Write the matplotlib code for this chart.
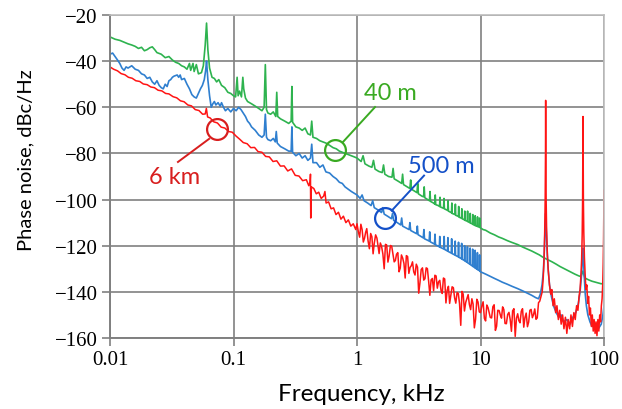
import matplotlib
matplotlib.use("Agg")
import matplotlib.pyplot as plt

# ---- data (frequency in kHz, phase noise in dBc/Hz) ----
f_40m = [0.010, 0.011, 0.012, 0.013, 0.014, 0.015, 0.016, 0.017, 0.018, 0.019,
         0.020, 0.021, 0.022, 0.023, 0.024, 0.026, 0.028, 0.030, 0.032, 0.034,
         0.036, 0.038, 0.040, 0.042, 0.044, 0.045, 0.047, 0.048, 0.050, 0.052,
         0.055, 0.057, 0.059, 0.0605, 0.062, 0.064, 0.067, 0.070, 0.073, 0.076,
         0.080, 0.085, 0.090, 0.095, 0.100, 0.104, 0.107, 0.109, 0.112, 0.116,
         0.119, 0.121, 0.125, 0.13, 0.14, 0.15, 0.16, 0.17, 0.177, 0.181,
         0.185, 0.19, 0.20, 0.21, 0.22, 0.224, 0.228, 0.24, 0.26, 0.28,
         0.293, 0.297, 0.301, 0.32, 0.34, 0.36, 0.38, 0.40, 0.42, 0.43,
         0.44, 0.47, 0.50, 0.53, 0.56, 0.60, 0.64, 0.68, 0.72, 0.76,
         0.80, 0.85, 0.90, 0.95,
         1.00, 1.08, 1.12, 1.16, 1.25, 1.32, 1.36, 1.40, 1.50, 1.60,
         1.64, 1.68, 1.80, 1.92, 1.96, 2.00, 2.15, 2.30, 2.34, 2.38,
         2.55, 2.68, 2.72, 2.76, 2.95, 3.06, 3.10, 3.14, 3.35, 3.46,
         3.50, 3.54, 3.78, 3.86, 3.90, 3.94, 4.20, 4.26, 4.30, 4.34,
         4.60, 4.66, 4.70, 4.74, 5.02, 5.06, 5.10, 5.42, 5.46, 5.50,
         5.82, 5.86, 5.90, 6.22, 6.26, 6.30, 6.62, 6.66, 6.70, 7.02,
         7.06, 7.10, 7.42, 7.46, 7.50, 7.82, 7.86, 7.90, 8.22, 8.26,
         8.30, 8.62, 8.66, 8.70, 9.02, 9.06, 9.10, 9.42, 9.46, 9.50,
         9.82, 9.86, 9.90, 10.0,
         10.5, 11, 12, 13, 14, 15, 16.5, 18, 20, 22,
         24, 26, 28, 30, 32, 33.7, 35, 38, 41, 44,
         47, 50, 54, 58, 62, 65, 67.5, 70, 75, 80,
         85, 90, 95, 100]
pn_40m = [-29.5, -30.5, -31.0, -31.8, -32.5, -33.0, -33.6, -34.5, -34.0, -35.5,
          -35.0, -34.2, -33.8, -35.0, -36.3, -37.0, -38.5, -38.0, -39.5, -40.5,
          -41.0, -42.0, -42.5, -43.5, -41.0, -44.0, -41.0, -44.5, -41.5, -45.5,
          -45.0, -42.0, -33.0, -23.5, -35.0, -43.0, -47.0, -47.5, -49.0, -48.0,
          -50.5, -51.5, -53.5, -54.0, -55.0, -55.5, -47.0, -55.0, -53.0, -55.5,
          -47.0, -52.0, -56.0, -57.5, -58.5, -59.5, -60.5, -61.5, -60.0, -41.5,
          -61.0, -62.5, -63.0, -62.0, -64.0, -53.5, -64.0, -65.0, -66.0, -67.0,
          -66.0, -51.0, -66.5, -68.5, -69.0, -70.0, -69.0, -71.5, -72.0, -66.0,
          -73.0, -73.5, -74.5, -75.0, -75.5, -76.5, -77.5, -78.0, -79.0, -79.5,
          -80.0, -80.5, -81.0, -81.5,
          -82.0, -83.5, -81.0, -84.5, -85.5, -86.0, -83.0, -86.8, -87.8, -88.3,
          -85.0, -89.0, -90.0, -90.3, -86.5, -91.0, -92.0, -93.0, -89.0, -93.5,
          -94.5, -95.2, -91.5, -95.5, -96.5, -97.0, -93.0, -97.5, -98.5, -98.8,
          -94.5, -99.2, -100.2, -100.5, -96.5, -100.8, -101.6, -102.0, -98.0, -102.2,
          -102.7, -103.0, -99.0, -103.2, -103.8, -99.5, -104.0, -104.7, -100.5, -105.0,
          -105.7, -101.5, -106.0, -106.5, -102.0, -106.8, -107.3, -103.0, -107.6, -108.1,
          -104.0, -108.3, -108.8, -105.0, -109.0, -109.4, -105.0, -109.6, -110.0, -106.0,
          -110.2, -110.6, -106.5, -110.8, -111.2, -107.0, -111.3, -111.6, -107.5, -111.7,
          -112.0, -108.0, -112.1, -112.3,
          -113.0, -113.3, -114.5, -115.3, -116.2, -116.8, -117.8, -118.6, -119.5, -120.6,
          -121.5, -122.3, -123.2, -124.0, -125.0, -125.6, -126.0, -127.0, -128.0, -129.0,
          -129.8, -130.5, -131.5, -132.3, -133.0, -133.4, -131.0, -134.0, -134.8, -135.4,
          -135.8, -136.2, -136.5, -136.3]

f_500m = [0.010, 0.0105, 0.011, 0.0115, 0.012, 0.0125, 0.013, 0.0135, 0.014, 0.015,
          0.016, 0.017, 0.018, 0.019, 0.020, 0.021, 0.022, 0.023, 0.024, 0.025,
          0.026, 0.027, 0.028, 0.029, 0.030, 0.031, 0.032, 0.033, 0.035, 0.036,
          0.037, 0.038, 0.040, 0.042, 0.044, 0.046, 0.048, 0.050, 0.052, 0.054,
          0.056, 0.058, 0.0595, 0.0605, 0.062, 0.064, 0.066, 0.068, 0.070, 0.072,
          0.075, 0.078, 0.080, 0.083, 0.086, 0.090, 0.095, 0.100, 0.105, 0.110,
          0.115, 0.120, 0.125, 0.130, 0.135, 0.140, 0.150, 0.160, 0.170, 0.177,
          0.181, 0.185, 0.190, 0.200, 0.210, 0.218, 0.222, 0.226, 0.24, 0.26,
          0.28, 0.293, 0.297, 0.301, 0.32, 0.34, 0.36, 0.38, 0.40, 0.42,
          0.43, 0.44, 0.47, 0.50, 0.53, 0.56, 0.60, 0.64, 0.68, 0.72,
          0.76, 0.80, 0.85, 0.90,
          1.00, 1.06, 1.10, 1.14, 1.22, 1.30, 1.34, 1.38, 1.48, 1.58,
          1.62, 1.66, 1.78, 1.90, 1.94, 1.98, 2.12, 2.26, 2.30, 2.34,
          2.50, 2.64, 2.68, 2.72, 2.90, 3.04, 3.08, 3.12, 3.30, 3.44,
          3.48, 3.52, 3.72, 3.84, 3.88, 3.92, 4.15, 4.24, 4.28, 4.32,
          4.55, 4.64, 4.68, 4.72, 4.96, 5.04, 5.08, 5.12, 5.40, 5.44,
          5.48, 5.80, 5.84, 5.88, 6.20, 6.24, 6.28, 6.60, 6.64, 6.68,
          7.00, 7.04, 7.08, 7.40, 7.44, 7.48, 7.80, 7.84, 7.88, 8.20,
          8.24, 8.28, 8.60, 8.64, 8.68, 9.00, 9.04, 9.08, 9.40, 9.44,
          9.48, 9.80, 9.84, 9.88, 10.0,
          10.5, 11, 12, 13, 14, 15, 16.5, 18, 20, 22,
          24, 26, 28, 29.5, 30.5, 31.5, 32.3, 32.9, 33.3, 33.7,
          34.1, 34.6, 35.3, 36.2, 37.5, 39, 41, 43, 45, 47,
          50, 53, 56, 59, 62, 64, 65.5, 66.5, 67.2, 67.6,
          68.1, 69, 70.5, 72, 74, 77, 80, 85, 90, 95,
          98, 100]
pn_500m = [-37.0, -36.5, -38.0, -39.5, -41.0, -43.0, -44.0, -42.5, -43.0, -42.0,
           -43.5, -44.0, -45.5, -46.0, -47.5, -47.0, -49.0, -50.0, -48.5, -50.5,
           -51.5, -52.0, -50.0, -51.0, -48.5, -48.0, -47.0, -46.5, -46.0, -47.0,
           -46.0, -48.0, -47.5, -50.0, -52.0, -54.5, -55.5, -56.0, -54.0, -52.0,
           -50.5, -48.0, -44.0, -40.0, -48.0, -55.0, -60.0, -58.5, -57.5, -59.0,
           -58.0, -59.5, -58.0, -60.0, -61.5, -60.5, -62.0, -60.5, -61.5, -60.0,
           -61.0, -62.5, -64.0, -66.0, -67.0, -68.5, -70.0, -72.0, -73.0, -72.0,
           -63.0, -73.0, -74.0, -74.5, -73.5, -75.0, -70.5, -75.5, -77.0, -78.0,
           -79.0, -79.0, -68.5, -79.5, -81.0, -80.0, -82.0, -81.0, -83.0, -82.0,
           -76.0, -84.0, -84.0, -86.0, -85.0, -88.0, -88.5, -90.0, -91.0, -92.5,
           -93.0, -94.5, -95.5, -96.5,
           -98.0, -99.5, -98.0, -100.5, -101.5, -102.6, -100.5, -103.5, -104.5, -105.6,
           -103.5, -106.3, -107.3, -108.3, -106.0, -109.0, -110.0, -111.0, -108.0, -111.5,
           -112.3, -113.0, -110.0, -113.4, -114.2, -114.8, -111.5, -115.2, -116.0, -116.6,
           -113.0, -117.0, -117.6, -118.0, -114.0, -118.3, -119.0, -119.3, -115.0, -119.6,
           -120.2, -120.5, -116.0, -120.7, -121.2, -121.4, -116.0, -121.6, -122.3, -116.5,
           -122.5, -123.2, -117.0, -123.4, -124.0, -118.0, -124.2, -124.8, -118.5, -125.0,
           -125.6, -119.0, -125.8, -126.4, -120.0, -126.6, -127.2, -120.5, -127.4, -128.0,
           -121.0, -128.2, -128.8, -121.5, -129.0, -129.5, -122.0, -129.7, -130.2, -123.0,
           -130.4, -130.8, -124.0, -131.0, -131.3,
           -131.8, -132.3, -133.3, -134.2, -135.0, -135.8, -136.7, -137.6, -138.6, -139.6,
           -140.6, -141.5, -142.5, -143.0, -141.0, -137.0, -131.0, -122.0, -113.0, -106.0,
           -113.0, -122.0, -130.0, -137.0, -142.0, -146.0, -149.0, -151.0, -150.0, -153.0,
           -152.0, -154.0, -151.0, -149.0, -145.0, -140.0, -134.0, -128.0, -123.0, -121.0,
           -125.0, -132.0, -141.0, -146.0, -150.0, -153.0, -155.0, -154.0, -156.0, -154.0,
           -150.0, -146.0]

f_6km = [0.010, 0.0107, 0.0115, 0.0123, 0.0132, 0.0141, 0.0151, 0.0162, 0.0174, 0.0186,
         0.020, 0.0214, 0.0229, 0.0245, 0.0263, 0.0282, 0.030, 0.0324, 0.0347, 0.0372,
         0.0398, 0.0427, 0.0457, 0.049, 0.0525, 0.0562, 0.059, 0.0603, 0.0617, 0.0646,
         0.0692, 0.0741, 0.0794, 0.0851, 0.0912, 0.0977, 0.105, 0.112, 0.120, 0.129,
         0.138, 0.148, 0.158, 0.170, 0.182, 0.195, 0.209, 0.224, 0.240, 0.257,
         0.275, 0.295, 0.316, 0.339, 0.363, 0.389, 0.407, 0.417, 0.420, 0.422,
         0.427, 0.447, 0.468, 0.490, 0.513, 0.537, 0.550, 0.562, 0.589, 0.617,
         0.646, 0.676, 0.708, 0.741, 0.776, 0.813, 0.851, 0.891, 0.933, 0.977,
         1.00, 1.025, 1.05, 1.075, 1.10, 1.125, 1.15, 1.175, 1.20, 1.23,
         1.26, 1.29, 1.32, 1.35, 1.38, 1.415, 1.45, 1.48, 1.51, 1.545,
         1.58, 1.62, 1.66, 1.70, 1.74, 1.78, 1.82, 1.865, 1.91, 1.955,
         2.00, 2.045, 2.09, 2.14, 2.19, 2.24, 2.29, 2.345, 2.40, 2.455,
         2.51, 2.57, 2.63, 2.69, 2.75, 2.815, 2.88, 2.95, 3.02, 3.09,
         3.16, 3.235, 3.31, 3.39, 3.47, 3.55, 3.63, 3.715, 3.80, 3.89,
         3.98, 4.075, 4.17, 4.27, 4.37, 4.47, 4.57, 4.68, 4.79, 4.90,
         5.01, 5.13, 5.25, 5.375, 5.50, 5.625, 5.75, 5.89, 6.03, 6.17,
         6.31, 6.46, 6.61, 6.765, 6.92, 7.08, 7.24, 7.415, 7.59, 7.765,
         7.94, 8.13, 8.32, 8.515, 8.71, 8.915, 9.12, 9.335, 9.55, 9.775,
         10.0, 10.25, 10.5, 10.75, 11.0, 11.25, 11.5, 11.75, 12.0, 12.3,
         12.6, 12.9, 13.2, 13.5, 13.8, 14.15, 14.5, 14.8, 15.1, 15.45,
         15.8, 16.2, 16.6, 17.0, 17.4, 17.8, 18.2, 18.65, 19.1, 19.55,
         20.0, 20.45, 20.9, 21.4, 21.9, 22.4, 22.9, 23.45, 24.0, 24.55,
         25.1, 25.7, 26.3, 26.9, 27.5, 28.15, 28.8, 29.5, 30.2, 30.9,
         31.6, 32.2, 32.7, 33.1, 33.4, 33.6, 33.7, 33.8, 34.0, 34.3,
         34.8, 35.4, 36.2, 37.0, 37.8, 38.7, 39.6, 40.6, 41.6, 42.7,
         43.8, 45.0, 46.2, 47.4, 48.7, 50.0, 51.3, 52.7, 54.0, 55.5,
         57.0, 58.5, 60.0, 61.5, 62.8, 64.0, 65.0, 65.9, 66.6, 67.1,
         67.4, 67.6, 67.8, 68.1, 68.6, 69.4, 70.3, 71.4, 72.6, 73.8,
         75.0, 76.3, 77.6, 79.0, 80.4, 81.8, 83.2, 84.7, 86.2, 87.7,
         89.2, 90.8, 92.3, 93.8, 95.2, 96.5, 97.6, 98.5, 99.2, 99.7,
         100]
pn_6km = [-42.5, -43.5, -44.2, -45.4, -45.9, -47.0, -47.4, -48.5, -48.8, -49.9,
          -50.2, -51.2, -51.5, -52.6, -52.9, -54.0, -54.2, -55.4, -55.9, -57.2,
          -57.6, -59.0, -59.4, -61.0, -61.4, -63.0, -62.9, -60.5, -64.2, -64.6,
          -66.3, -66.8, -68.6, -69.0, -70.5, -70.8, -72.5, -73.8, -75.3, -75.8,
          -77.5, -77.4, -79.2, -79.5, -81.3, -81.5, -83.5, -83.2, -85.5, -85.4,
          -87.6, -86.7, -89.5, -89.8, -91.8, -91.4, -94.0, -92.5, -89.0, -108.0,
          -94.5, -95.2, -97.5, -96.8, -99.5, -98.5, -96.5, -101.5, -101.0, -104.0,
          -103.6, -106.5, -105.5, -108.5, -107.2, -110.0, -108.8, -111.5, -110.5, -113.0,
          -110.5, -113.9, -116.3, -110.7, -113.0, -118.4, -116.8, -114.2, -112.6, -118.0,
          -121.3, -114.7, -116.1, -123.5, -118.9, -115.3, -116.7, -120.0, -123.4, -118.8,
          -120.2, -123.6, -130.0, -119.4, -119.7, -127.1, -124.5, -119.9, -120.2, -123.6,
          -127.0, -126.4, -123.7, -123.0, -131.3, -129.7, -124.0, -125.4, -127.7, -134.0,
          -124.3, -124.7, -132.0, -129.4, -128.7, -127.0, -131.3, -132.7, -128.0, -129.3,
          -140.6, -136.0, -130.3, -129.6, -134.9, -134.3, -129.6, -129.9, -135.2, -141.5,
          -134.8, -134.2, -139.5, -132.8, -133.1, -138.4, -135.7, -135.0, -139.4, -140.7,
          -134.0, -134.4, -144.8, -139.2, -137.6, -145.0, -141.4, -137.8, -138.2, -142.6,
          -144.9, -140.3, -140.7, -145.1, -154.5, -139.8, -141.0, -148.3, -144.6, -142.9,
          -141.2, -145.5, -147.7, -143.0, -145.3, -155.6, -151.9, -143.2, -144.4, -148.7,
          -149.0, -146.2, -144.3, -151.5, -152.6, -145.7, -146.8, -149.0, -151.1, -151.3,
          -146.4, -145.6, -156.7, -154.9, -148.0, -148.1, -150.2, -151.4, -146.5, -147.6,
          -153.7, -153.8, -149.8, -148.9, -152.0, -157.1, -148.2, -147.3, -159.3, -151.4,
          -149.5, -152.5, -153.4, -148.4, -147.3, -155.3, -151.2, -149.2, -155.1, -153.1,
          -148.0, -147.6, -151.2, -149.8, -147.4, -151.9, -151.3, -144.7, -144.0, -142.0,
          -140.0, -134.0, -126.0, -114.0, -100.0, -80.0, -57.0, -80.0, -100.0, -113.0,
          -124.0, -131.0, -137.0, -141.0, -139.0, -146.0, -143.0, -149.0, -146.0, -152.0,
          -148.0, -154.0, -150.0, -156.0, -151.0, -158.0, -152.0, -156.0, -150.0, -155.0,
          -149.0, -152.0, -146.0, -148.0, -142.0, -139.0, -133.0, -126.0, -115.0, -100.0,
          -82.0, -64.0, -82.0, -100.0, -114.0, -125.0, -132.0, -139.0, -137.0, -145.0,
          -142.0, -150.0, -147.0, -155.0, -150.0, -157.0, -152.0, -158.0, -153.0, -159.0,
          -152.0, -157.0, -150.0, -153.0, -146.0, -143.0, -137.0, -128.0, -117.0, -105.0,
          -96.0]

x_ticks = [0.01, 0.1, 1, 10, 100]
x_ticklabels = ["0.01", "0.1", "1", "10", "100"]
y_ticks = [-160, -140, -120, -100, -80, -60, -40, -20]

# labels: (text, circle centre, line start, line end, text centre, colour)
notes = [
    ("6 km", (0.0735, -69.5), (0.0634, -73.7), (0.0355, -83.7), (0.0336, -89.8), "#d81e1e"),
    ("40 m", (0.664, -78.5), (0.771, -75.0), (1.40, -59.9), (1.85, -53.4), "#3aaa22"),
    ("500 m", (1.67, -108.0), (1.91, -104.8), (3.49, -89.6), (4.79, -85.4), "#1450c8"),
]

sans = ["Lato", "DejaVu Sans"]
serif = ["Liberation Serif", "DejaVu Serif"]

fig = plt.figure(figsize=(6.22, 4.10), dpi=100)
ax = fig.add_axes([110/622, 1-339/410, 494/622, 323/410])

ax.semilogx(f_40m, pn_40m, color="#2eb34f", lw=1.2)
ax.semilogx(f_500m, pn_500m, color="#2f7fcf", lw=1.2)
ax.semilogx(f_6km, pn_6km, color="#ff1414", lw=1.1)

for txt, c, p0, p1, tc, col in notes:
    ax.plot([c[0]], [c[1]], marker="o", ms=15, mfc="none", mec=col, mew=1.6)
    ax.plot([p0[0], p1[0]], [p0[1], p1[1]], color=col, lw=1.4)
    ax.text(tc[0], tc[1], txt, color=col, family=sans, fontsize=17,
            ha="center", va="center")

ax.set_xlim(0.01, 100)
ax.set_ylim(-160, -20)
ax.set_xticks(x_ticks)
ax.set_xticklabels(x_ticklabels)
ax.set_yticks(y_ticks)
ax.minorticks_off()
ax.grid(True, color="#808080", lw=1.2)
ax.set_axisbelow(True)
for s in ["left", "bottom"]:
    ax.spines[s].set_color("#808080")
    ax.spines[s].set_linewidth(1.4)
for s in ["top", "right"]:
    ax.spines[s].set_color("#bdbdbd")
    ax.spines[s].set_linewidth(1.2)
ax.tick_params(direction="out", length=6, width=1.2, color="#808080", pad=3)
for lab in ax.get_xticklabels() + ax.get_yticklabels():
    lab.set_family(serif)
    lab.set_fontsize(15)

fig.text(26/622, 1-160/410, "Phase noise, dBc/Hz", rotation=90, family=sans,
         fontsize=14.5, ha="center", va="center")
fig.text(361/622, 1-395/410, "Frequency, kHz", family=sans, fontsize=17.5,
         ha="center", va="center")

fig.savefig("out.png", dpi=100)
